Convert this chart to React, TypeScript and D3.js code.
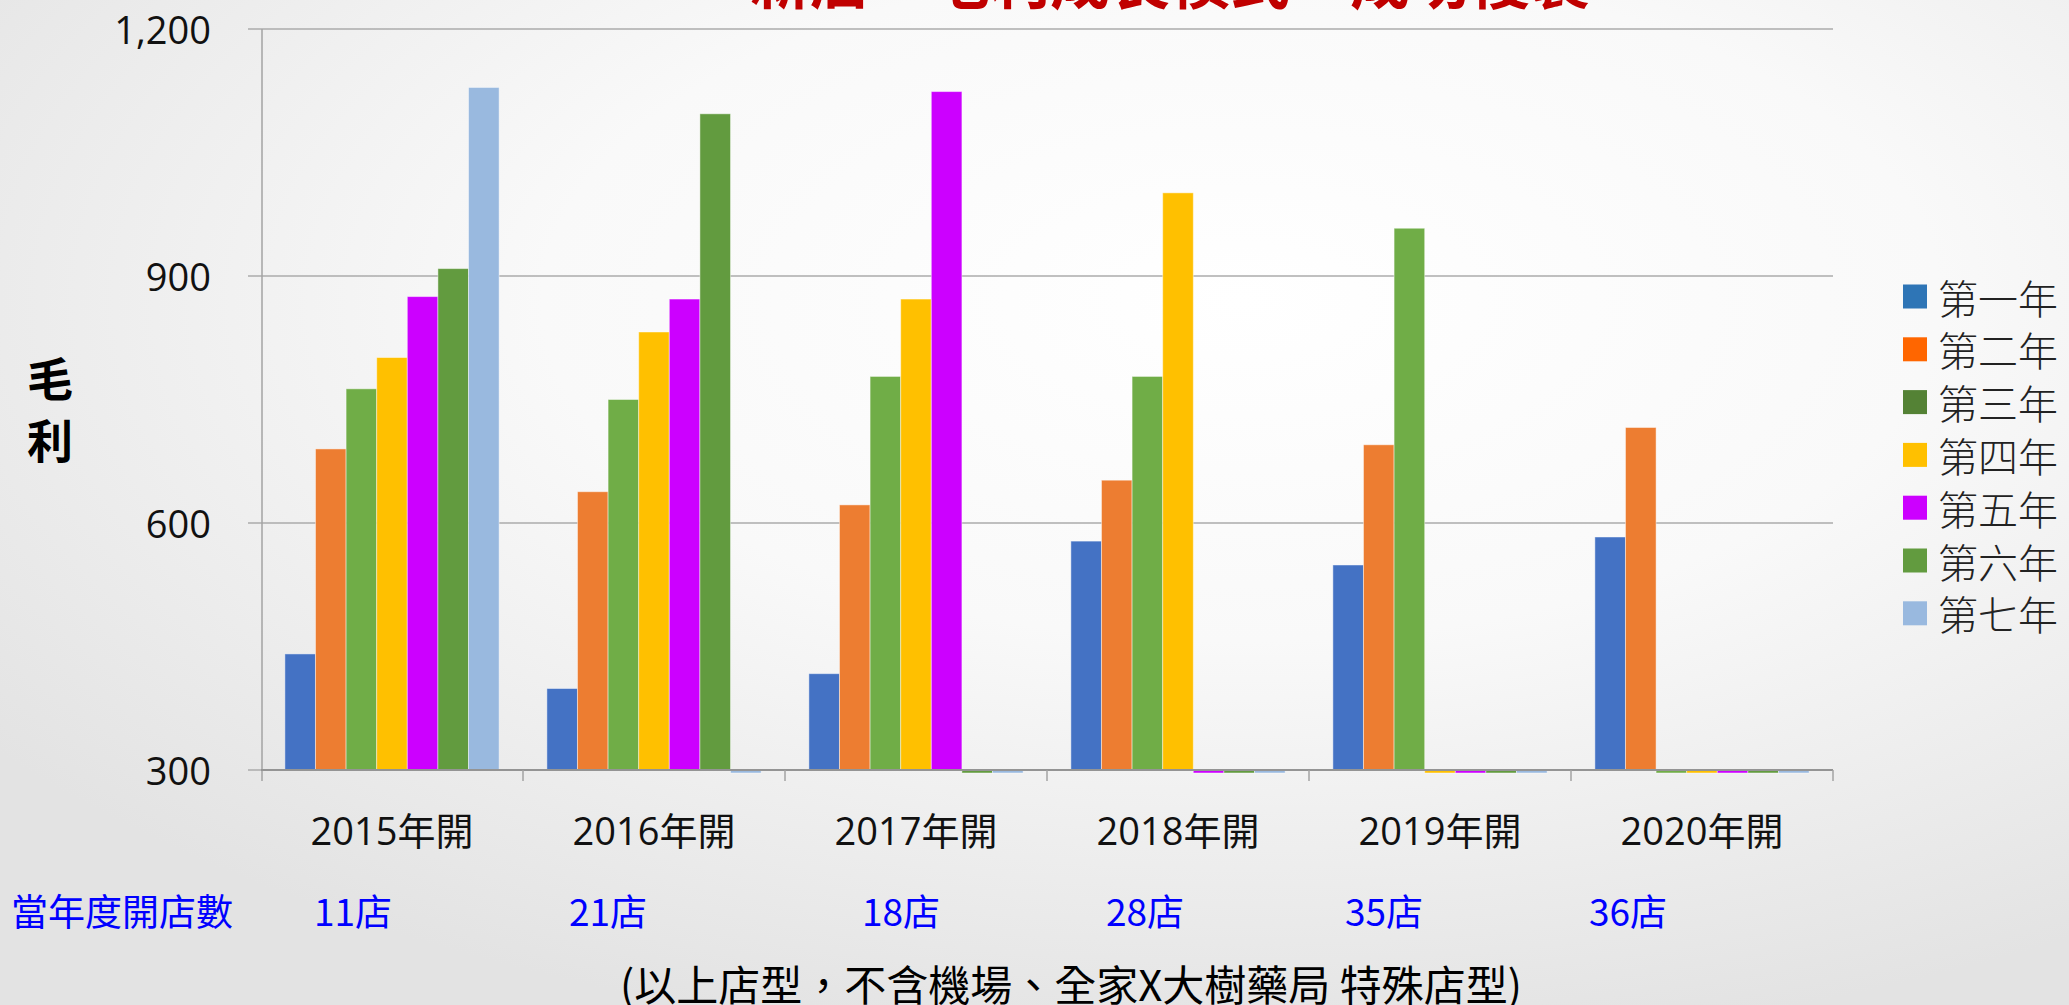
import React from "react";
import * as d3 from "d3";

const categories = ["2015年開", "2016年開", "2017年開", "2018年開", "2019年開", "2020年開"];
const seriesNames = ["第一年", "第二年", "第三年", "第四年", "第五年", "第六年", "第七年"];
// values per series, one per category (0 = no data yet)
const year1 = [441, 399, 417, 578, 549, 583];
const year2 = [690, 638, 622, 652, 695, 716];
const year3 = [763, 750, 778, 778, 958, 0];
const year4 = [801, 832, 872, 1001, 0, 0];
const year5 = [875, 872, 1124, 0, 0, 0];
const year6 = [909, 1097, 0, 0, 0, 0];
const year7 = [1129, 0, 0, 0, 0, 0];
const seriesValues = [year1, year2, year3, year4, year5, year6, year7];
const yTicks = [300, 600, 900, 1200];
const storeCountLabel = "當年度開店數";
const storeCounts = ["11店", "21店", "18店", "28店", "35店", "36店"];

const barColors = ["#4472C4", "#ED7D31", "#70AD47", "#FFC000", "#CC00FF", "#629B3F", "#99B9DF"];
const legendColors = ["#2E75B6", "#FF6600", "#548235", "#FFC000", "#CC00FF", "#629B3F", "#99B9DF"];
const storeCountX = [314, 569, 862, 1106, 1345, 1589];

export default function App() {
  const W = 2069, H = 1005;
  const left = 261, right = 1833, top = 29, bottom = 770;
  const x0 = d3.scaleBand<string>().domain(categories).range([left, right]).paddingInner(0).paddingOuter(0);
  const x1 = d3.scaleBand<string>().domain(seriesNames).range([0, x0.bandwidth()]).paddingInner(0).paddingOuter(0.78);
  const y = d3.scaleLinear().domain([300, 1200]).range([bottom, top]);
  const fmt = d3.format(",");
  const sans = "'Open Sans', 'Noto Sans CJK TC', sans-serif";
  const cjk = "'Noto Sans CJK TC', sans-serif";

  return (
    <svg width={W} height={H} style={{ position: "absolute", left: 0, top: 0 }}>
      <defs>
        <radialGradient id="bg" cx="0.6" cy="0.3" r="0.75">
          <stop offset="0" stopColor="#ffffff" />
          <stop offset="0.45" stopColor="#f9f9f9" />
          <stop offset="1" stopColor="#e3e3e3" />
        </radialGradient>
      </defs>
      <rect x={0} y={0} width={W} height={H} fill="url(#bg)" />

      {/* title (clipped at top of frame, as in the reference) */}
      <text x={1170} y={4} textAnchor="middle" fontFamily={cjk} fontWeight={700} fontSize={60} fill="#C00000">
        新店　毛利成長模式　成功複製
      </text>

      {/* gridlines */}
      {yTicks.map((t) => (
        <line key={t} x1={248} x2={right} y1={y(t)} y2={y(t)} stroke="#ababab" strokeWidth={1.5} />
      ))}

      {/* bars */}
      {categories.map((c, ci) => (
        <g key={c} transform={`translate(${x0(c)},0)`}>
          {seriesNames.map((s, si) => {
            const v = seriesValues[si][ci];
            const base = y(300);
            const yt = v >= 300 ? y(v) : base;
            const h = v >= 300 ? base - yt : 3;
            return (
              <rect
                key={s}
                x={x1(s)}
                y={yt}
                width={x1.bandwidth()}
                height={h}
                fill={barColors[si]}
                stroke="#ffffff"
                strokeOpacity={0.45}
                strokeWidth={1}
              />
            );
          })}
        </g>
      ))}

      {/* axes */}
      <line x1={left + 1} x2={left + 1} y1={top} y2={bottom + 11} stroke="#a3a3a3" strokeWidth={1.5} />
      <line x1={left} x2={right} y1={bottom} y2={bottom} stroke="#949494" strokeWidth={2} />
      {categories.map((c) => (
        <line key={c} x1={x0(c)! + x0.bandwidth()} x2={x0(c)! + x0.bandwidth()} y1={bottom} y2={bottom + 11} stroke="#a3a3a3" strokeWidth={1.5} />
      ))}

      {yTicks.map((t) => (
        <text key={t} x={211} y={y(t)} textAnchor="end" dominantBaseline="central" fontFamily={sans} fontSize={38} fill="#111">
          {fmt(t)}
        </text>
      ))}

      {categories.map((c) => (
        <text key={c} x={x0(c)! + x0.bandwidth() / 2} y={830} textAnchor="middle" dominantBaseline="central" fontFamily={sans} fontSize={38} fill="#111">
          {c}
        </text>
      ))}

      {/* y title */}
      <text x={50} y={376} textAnchor="middle" dominantBaseline="central" fontFamily={cjk} fontWeight={700} fontSize={46} fill="#000">毛</text>
      <text x={50} y={438} textAnchor="middle" dominantBaseline="central" fontFamily={cjk} fontWeight={700} fontSize={46} fill="#000">利</text>

      {/* legend */}
      {seriesNames.map((s, i) => {
        const cy = 296.5 + i * 52.8;
        return (
          <g key={s}>
            <rect x={1903} y={cy - 12} width={24} height={24} fill={legendColors[i]} />
            <text x={1938} y={cy} dominantBaseline="central" fontFamily={cjk} fontWeight={300} fontSize={40} fill="#222">
              {s}
            </text>
          </g>
        );
      })}

      {/* store counts */}
      <text x={11} y={910} dominantBaseline="central" fontFamily={cjk} fontSize={37} fill="#0000FF">{storeCountLabel}</text>
      {storeCounts.map((s, i) => (
        <text key={s} x={storeCountX[i]} y={910} dominantBaseline="central" fontFamily={cjk} fontSize={37} fill="#0000FF">{s}</text>
      ))}

      <text x={1071} y={982} textAnchor="middle" dominantBaseline="central" fontFamily={cjk} fontSize={42} fill="#000">
        (以上店型，不含機場、全家X大樹藥局 特殊店型)
      </text>
    </svg>
  );
}
